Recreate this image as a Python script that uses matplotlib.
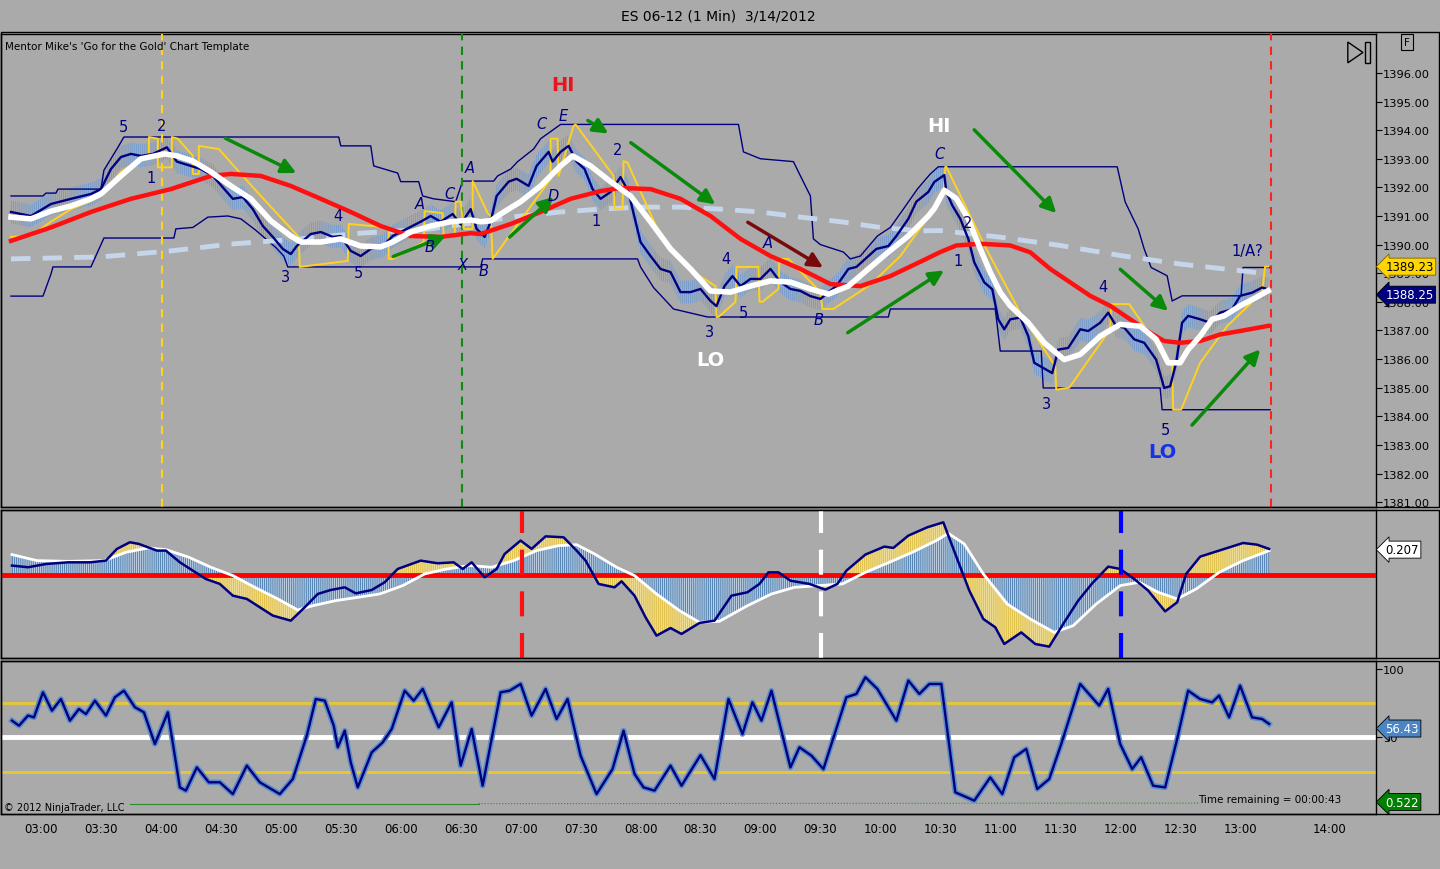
import numpy as np
import matplotlib
matplotlib.use("Agg")
import matplotlib.pyplot as plt
from matplotlib.patches import Rectangle, Polygon
from matplotlib.transforms import blended_transform_factory

# time is minutes after 03:00 (1-min ES bars)
tick_pos = [0, 30, 60, 90, 120, 150, 180, 210, 240, 270, 300, 330, 360, 390,
            420, 450, 480, 510, 540, 570, 600, 645]
tick_labels = ["03:00", "03:30", "04:00", "04:30", "05:00", "05:30", "06:00",
               "06:30", "07:00", "07:30", "08:00", "08:30", "09:00", "09:30",
               "10:00", "10:30", "11:00", "11:30", "12:00", "12:30", "13:00", "14:00"]

# fast price line (dark blue)
fast_t = [-15, -5, 5, 15, 25, 30, 35, 40, 45, 50, 56, 63, 68, 75, 80, 86, 91, 96, 101, 106,
          111, 116, 121, 125, 128, 135, 140, 146, 150, 155, 160, 165, 171, 176, 183, 190, 195,
          200, 206, 210, 215, 218, 222, 225, 228, 234, 238, 244, 248, 254, 256, 260, 264, 268,
          272, 276, 280, 285, 290, 294, 296, 300, 305, 310, 315, 320, 325, 330, 335, 338, 342,
          346, 350, 355, 360, 365, 370, 375, 380, 385, 390, 394, 398, 404, 408, 414, 418, 424,
          428, 434, 438, 444, 447, 452, 453, 456, 460, 464, 467, 472, 476, 479, 482, 485, 490,
          494, 497, 500, 506, 509, 514, 520, 524, 530, 534, 538, 542, 547, 552, 558, 562, 565,
          568, 571, 574, 580, 585, 590, 596, 600, 606, 611, 614]
fast_p = [1391.14, 1391.0, 1391.42, 1391.6, 1391.77, 1391.94, 1392.64, 1393.06, 1393.17, 1393.1,
          1393.17, 1393.4, 1392.9, 1392.75, 1392.64, 1392.4, 1392.0, 1391.6, 1391.66, 1391.24,
          1390.65, 1390.27, 1389.85, 1389.67, 1389.95, 1390.37, 1390.44, 1390.27, 1390.3, 1389.78,
          1389.6, 1389.85, 1389.95, 1390.3, 1390.55, 1390.8, 1391.0, 1390.8, 1391.07, 1390.7,
          1391.24, 1390.55, 1390.27, 1390.8, 1391.7, 1392.2, 1392.3, 1392.05, 1392.75, 1393.24,
          1392.9, 1393.24, 1393.45, 1392.9, 1392.64, 1391.94, 1391.6, 1391.84, 1392.36, 1391.84,
          1391.24, 1390.09, 1389.6, 1389.15, 1389.04, 1388.34, 1388.34, 1388.45, 1388.03, 1387.85,
          1388.55, 1388.9, 1388.55, 1388.8, 1388.8, 1389.15, 1388.69, 1388.45, 1388.38, 1388.2,
          1388.1, 1388.34, 1388.55, 1389.15, 1389.22, 1389.6, 1389.85, 1389.95, 1390.3, 1390.9,
          1391.5, 1391.84, 1392.19, 1392.43, 1391.84, 1391.37, 1390.9, 1390.2, 1389.38, 1388.68,
          1388.44, 1387.39, 1387.04, 1387.39, 1387.45, 1386.8, 1385.87, 1385.75, 1385.51, 1386.33,
          1386.39, 1387.04, 1386.98, 1387.27, 1387.62, 1387.15, 1387.1, 1386.69, 1386.57, 1385.98,
          1384.99, 1385.05, 1385.87, 1387.27, 1387.51, 1387.39, 1387.27, 1387.62, 1387.74, 1388.21,
          1388.32, 1388.5, 1388.44]

# medium average (white)
white_t = [-15, -5, 5, 15, 25, 30, 40, 50, 62, 68, 76, 85, 95, 105, 115, 125, 130, 140, 150, 160,
           170, 176, 185, 195, 205, 215, 220, 225, 230, 240, 250, 260, 266, 275, 285, 295, 305,
           315, 325, 335, 345, 355, 365, 375, 385, 394, 404, 414, 424, 434, 444, 447, 452, 458,
           464, 470, 475, 480, 485, 494, 502, 512, 520, 530, 540, 550, 558, 564, 570, 574, 580,
           586, 592, 600, 608, 614]
white_p = [1390.96, 1390.9, 1391.17, 1391.35, 1391.6, 1391.77, 1392.4, 1393.0, 1393.17, 1393.1,
           1392.92, 1392.54, 1392.05, 1391.6, 1390.83, 1390.3, 1390.09, 1390.09, 1390.2, 1389.95,
           1389.92, 1390.09, 1390.44, 1390.65, 1390.8, 1390.86, 1390.8, 1390.83, 1391.07, 1391.5,
           1392.05, 1392.75, 1393.1, 1392.75, 1392.2, 1391.7, 1390.8, 1389.85, 1389.15, 1388.38,
           1388.34, 1388.55, 1388.73, 1388.69, 1388.45, 1388.27, 1388.55, 1389.15, 1389.74, 1390.3,
           1391.0, 1391.26, 1391.9, 1391.61, 1390.9, 1389.85, 1389.03, 1388.33, 1387.86, 1387.27,
           1386.57, 1385.98, 1386.16, 1386.8, 1387.21, 1387.15, 1386.69, 1385.87, 1385.87, 1386.33,
           1386.8, 1387.39, 1387.51, 1387.86, 1388.15, 1388.39]

# slow average (red)
red_t = [-15, 5, 25, 45, 65, 85, 95, 110, 125, 140, 155, 170, 185, 200, 215, 220, 235, 250, 265,
         280, 290, 305, 320, 335, 350, 365, 380, 395, 410, 425, 440, 450, 458, 470, 485, 495, 505,
         515, 525, 535, 545, 555, 562, 570, 580, 590, 600, 614]
red_p = [1390.13, 1390.6, 1391.14, 1391.6, 1391.94, 1392.4, 1392.47, 1392.4, 1392.05, 1391.6,
         1391.14, 1390.65, 1390.3, 1390.27, 1390.4, 1390.37, 1390.72, 1391.14, 1391.6, 1391.87,
         1391.98, 1391.94, 1391.6, 1391.0, 1390.2, 1389.6, 1389.15, 1388.62, 1388.55, 1388.9,
         1389.4, 1389.74, 1389.97, 1390.03, 1389.97, 1389.73, 1389.15, 1388.68, 1388.21, 1387.86,
         1387.39, 1386.92, 1386.63, 1386.57, 1386.63, 1386.86, 1386.98, 1387.16]

# long average (light blue dashed)
long_t = [-15, 30, 65, 95, 130, 160, 195, 220, 240, 260, 280, 300, 320, 340, 360, 380, 400, 420,
          440, 450, 480, 510, 540, 570, 600, 614]
long_p = [1389.5, 1389.57, 1389.78, 1390.02, 1390.2, 1390.4, 1390.55, 1390.8, 1391.0, 1391.14,
          1391.24, 1391.31, 1391.31, 1391.24, 1391.14, 1390.96, 1390.8, 1390.6, 1390.48, 1390.49,
          1390.26, 1389.97, 1389.62, 1389.32, 1389.09, 1388.97]

# yellow stepping line
yel_t = [-15, -5, 5, 15, 25, 30, 40, 50, 54, 54, 58.5, 58.5, 65.5, 65.5, 68.5, 76, 76, 79, 79, 89,
         96.5, 110, 121.5, 129, 129.5, 153.5, 154, 174, 174, 176, 191.5, 192, 201, 201.5, 207,
         207.5, 210, 211.5, 216, 216, 223.5, 225, 226, 255, 255, 258.5, 259, 266.5, 267.5, 286.5,
         287, 291, 291.5, 293.5, 310, 326.5, 337.5, 338, 339, 347.5, 348, 359, 359.5, 361, 369,
         369.5, 374, 390, 391, 396.5, 415, 430, 447, 451.5, 452.5, 453, 473, 490, 507.5, 508,
         514.5, 535, 535.5, 544.5, 566, 566.5, 570.5, 580, 593.5, 611, 612.5, 614]
yel_p = [1390.27, 1390.3, 1390.8, 1391.24, 1391.52, 1391.7, 1392.54, 1393.0, 1393.1, 1393.76,
         1393.7, 1392.7, 1392.7, 1393.76, 1393.7, 1393.1, 1392.47, 1392.47, 1393.45, 1393.34,
         1392.75, 1391.7, 1390.83, 1390.27, 1389.22, 1389.43, 1390.72, 1390.6, 1389.5, 1389.5,
         1390.09, 1391.17, 1391.1, 1390.3, 1390.3, 1391.5, 1391.5, 1390.55, 1390.55, 1392.22,
         1391.1, 1391.0, 1389.5, 1392.3, 1393.7, 1393.7, 1392.4, 1394.15, 1394.2, 1392.4,
         1391.24, 1391.24, 1392.92, 1392.86, 1390.3, 1389.04, 1388.55, 1387.47, 1387.47, 1388.0,
         1389.22, 1389.22, 1388.0, 1388.0, 1388.45, 1389.5, 1389.5, 1388.34, 1387.75, 1387.75,
         1388.6, 1389.6, 1391.26, 1391.72, 1392.72, 1392.72, 1389.85, 1387.62, 1385.75, 1384.93,
         1385.0, 1387.04, 1387.92, 1387.92, 1385.75, 1384.23, 1384.23, 1385.87, 1387.15, 1388.33,
         1389.23, 1389.23]

# price channel (dark blue thin)
up_t = [-15, 1, 2.5, 7.5, 8.5, 30, 31.5, 35, 38.5, 41.5, 149, 150, 165, 166.5, 178.5, 180, 189,
        191, 196.5, 207.5, 211, 226.5, 228.5, 235, 238.5, 246.5, 250, 260, 349, 351.5, 360, 376.5,
        380, 385, 386.5, 390, 401.5, 405, 410, 418.5, 425, 431.5, 438.5, 445, 449, 538.5, 542.5,
        549, 552, 555.5, 563.5, 566, 571, 600.5, 601.5, 615]
up_p = [1391.7, 1391.7, 1391.8, 1391.8, 1391.94, 1391.94, 1392.6, 1393.0, 1393.4, 1393.76, 1393.76,
        1393.45, 1393.45, 1392.75, 1392.5, 1392.2, 1392.2, 1391.7, 1391.6, 1391.5, 1392.22, 1392.22,
        1392.4, 1392.64, 1392.9, 1393.34, 1393.7, 1394.2, 1394.2, 1393.24, 1393.0, 1392.9, 1392.4,
        1391.7, 1390.2, 1390.0, 1389.74, 1389.5, 1389.6, 1390.3, 1390.6, 1391.24, 1391.94, 1392.47,
        1392.72, 1392.72, 1391.49, 1390.55, 1389.85, 1389.2, 1388.91, 1388.03, 1388.21, 1388.21,
        1389.2, 1389.2]
lo_t = [-15, 1, 5, 6, 25, 31.5, 66.5, 67.5, 76, 83.5, 93.5, 100, 107.5, 112.5, 117.5, 121.5, 123.5,
        220, 221, 298.5, 300, 306.5, 316.5, 333.5, 424, 425, 477.5, 480, 500.5, 501.5, 560, 561, 615]
lo_p = [1388.2, 1388.2, 1388.97, 1389.22, 1389.22, 1390.23, 1390.23, 1390.55, 1390.6, 1390.96,
        1391.0, 1390.9, 1390.5, 1390.2, 1389.9, 1389.6, 1389.22, 1389.22, 1389.5, 1389.5, 1389.22,
        1388.5, 1387.75, 1387.47, 1387.47, 1387.75, 1387.75, 1386.28, 1386.28, 1384.99, 1384.99,
        1384.23, 1384.23]

# oscillator panel
osc_t = [-14.5, -6.5, 2.5, 13.5, 24.5, 32.5, 38, 44.5, 49, 58, 62.5, 69.5, 76, 82.5, 89.5, 96,
         103, 109.5, 116, 125, 132, 138.5, 145, 152, 157.5, 165.5, 172, 178.5, 190, 198.5, 206.5,
         211, 215.5, 222, 228, 232, 240, 245.5, 252.5, 261.5, 268, 272.5, 279, 287, 290.5, 297,
         302.5, 308, 315, 320.5, 329.5, 337, 345.5, 353.5, 359.5, 364, 369, 375, 384.5, 392.5,
         398.5, 403, 412.5, 422, 426.5, 434, 443.5, 451.5, 457.5, 464.5, 471.5, 477.5, 482, 490.5,
         497.5, 504.5, 511.5, 519, 526, 534, 540, 547, 554, 562.5, 568.5, 573, 580, 589.5, 601.5,
         608.5, 614.5]
osc_v = [0.075, 0.061, 0.088, 0.102, 0.102, 0.116, 0.213, 0.268, 0.254, 0.199, 0.199, 0.102,
         0.033, -0.036, -0.077, -0.174, -0.201, -0.27, -0.339, -0.381, -0.27, -0.16, -0.127,
         -0.105, -0.155, -0.127, -0.063, 0.047, 0.116, 0.094, 0.102, 0.047, 0.102, -0.022, 0.047,
         0.171, 0.282, 0.213, 0.317, 0.309, 0.199, 0.116, -0.077, -0.105, -0.055, -0.174, -0.353,
         -0.505, -0.442, -0.491, -0.40, -0.381, -0.174, -0.146, -0.077, 0.019, 0.019, -0.05,
         -0.077, -0.124, -0.077, 0.033, 0.166, 0.232, 0.221, 0.323, 0.392, 0.433, 0.171, -0.132,
         -0.367, -0.436, -0.574, -0.478, -0.574, -0.596, -0.408, -0.215, -0.072, 0.066, 0.047,
         -0.036, -0.132, -0.304, -0.229, 0.006, 0.149, 0.199, 0.262, 0.248, 0.213]
sig_t = [-14.5, -2, 13.5, 31.5, 42.5, 53.5, 62.5, 74, 85, 96, 107, 118.5, 128.5, 136, 147.5,
         158.5, 169.5, 181, 192, 203, 214.5, 225.5, 236.5, 248, 259, 268, 277, 288, 297, 308,
         319.5, 329.5, 339.5, 353.5, 365.5, 377, 389, 401, 412.5, 424.5, 436, 448, 454, 462,
         471.5, 483.5, 495, 507, 516.5, 528, 540, 549.5, 559, 568.5, 578, 589.5, 601.5, 614.5]
sig_v = [0.166, 0.116, 0.11, 0.116, 0.185, 0.221, 0.207, 0.144, 0.061, -0.008, -0.105, -0.201,
         -0.293, -0.257, -0.215, -0.188, -0.16, -0.091, 0.006, 0.047, 0.075, 0.061, 0.116, 0.199,
         0.24, 0.248, 0.171, 0.061, -0.008, -0.16, -0.298, -0.395, -0.386, -0.257, -0.16, -0.105,
         -0.091, -0.077, 0.019, 0.102, 0.185, 0.282, 0.342, 0.254, 0.006, -0.243, -0.367, -0.478,
         -0.422, -0.243, -0.091, -0.063, -0.146, -0.201, -0.119, 0.019, 0.116, 0.199]

# stochastic panel
st_t = [-14.5, -11, -6.5, -3.5, 1, 5.5, 10, 14.5, 19, 22.5, 27, 32.5, 37, 41.5, 47, 51.5, 57,
        63.5, 69.5, 72.5, 78, 84, 89.5, 96, 103, 109.5, 119.5, 126, 133, 137.5, 142, 146.5, 148.5,
        152, 155, 158.5, 165.5, 171, 175.5, 182, 186.5, 191, 199, 205.5, 210, 215.5, 221, 230,
        234.5, 240, 245.5, 252.5, 258, 263.5, 270, 278, 286, 291.5, 297, 301.5, 307, 315, 320.5,
        330, 337, 344, 351, 356, 360.5, 365.5, 375, 379.5, 385.5, 391.5, 403, 408, 412.5, 418.5,
        428, 434, 439.5, 444.5, 450.5, 457.5, 467, 475, 481, 487, 493, 498.5, 504.5, 510.5, 520,
        529.5, 534, 540, 546, 550.5, 556.5, 562.5, 568.5, 574, 580, 586, 589.5, 594.5, 600, 606,
        611, 614.5]
st_v = [62.2, 58.5, 65.9, 64.6, 82.9, 69.5, 78.0, 62.2, 70.7, 67.0, 76.8, 65.9, 79.3, 84.1, 72.0,
        68.3, 45.1, 68.3, 13.4, 11.0, 28.0, 17.1, 17.1, 8.5, 29.3, 17.1, 8.5, 19.5, 51.2, 78.0,
        76.8, 58.5, 42.7, 54.9, 31.7, 13.4, 39.0, 46.3, 56.1, 84.1, 76.8, 85.4, 57.3, 75.6, 29.3,
        56.1, 14.6, 82.9, 84.1, 89.0, 65.9, 85.4, 63.4, 78.0, 36.6, 8.5, 26.8, 54.9, 23.2, 13.4,
        11.0, 29.3, 14.6, 37.0, 19.5, 78.0, 52.4, 75.6, 62.2, 84.1, 28.0, 42.7, 36.6, 26.8, 79.3,
        81.7, 93.9, 85.4, 62.2, 91.5, 81.7, 89.0, 89.0, 9.8, 3.7, 20.7, 8.5, 35.4, 41.5, 12.2,
        19.5, 45.1, 89.0, 73.2, 85.4, 45.1, 26.8, 35.4, 14.6, 13.4, 48.8, 84.1, 78.0, 75.6, 80.5,
        64.6, 87.8, 64.6, 63.4, 59.8]
green_solid_t = [44.5, 219]
green_solid_v = [1.2, 1.2]
green_dot_t = [219, 330, 470, 580]
green_dot_v = [1.5, 1.6, 1.8, 1.9]

# annotations: (text, minute, price)
wave_labels = [("5", 41.5, 1394.11), ("2", 60.5, 1394.15), ("1", 55, 1392.33),
               ("4", 148.5, 1391.03), ("3", 122.5, 1388.87), ("5", 159, 1389.01),
               ("A", 189.5, 1391.45), ("C", 204.5, 1391.77), ("A", 214.5, 1392.68),
               ("B", 194.5, 1389.95), ("X", 211, 1389.32), ("B", 221.5, 1389.11),
               ("C", 250.5, 1394.22), ("E", 261.5, 1394.5), ("D", 256.5, 1391.73),
               ("1", 277.5, 1390.83), ("2", 288.5, 1393.34), ("4", 342.5, 1389.53),
               ("A", 363.5, 1390.06), ("5", 351.5, 1387.64), ("3", 334.5, 1386.98),
               ("B", 389, 1387.4), ("C", 449.5, 1393.17), ("2", 463.5, 1390.76),
               ("1", 459, 1389.43), ("4", 531.5, 1388.55), ("3", 503, 1384.43),
               ("5", 562.5, 1383.55), ("1/A?", 603.5, 1389.78)]
hilo_labels = [("HI", 261, 1395.58, "#e8141e"), ("LO", 335, 1386.0, "white"),
               ("HI", 449.5, 1394.15, "white"), ("LO", 561, 1382.78, "#1432e6")]
# arrows: (start minute, start price, end minute, end price)
green_arrows = [(91, 1393.76, 129, 1392.46), (175, 1389.55, 204, 1390.35),
                (233.5, 1390.2, 257.5, 1391.73), (272.5, 1394.39, 285, 1393.83),
                (294, 1393.62, 338.5, 1391.35), (402.5, 1386.87, 453, 1389.15),
                (466, 1394.08, 509, 1391.03), (539, 1389.2, 565, 1387.62),
                (575, 1383.62, 611, 1386.41)]
red_arrow = (352.5, 1390.83, 392.5, 1389.15)

BG = "#aaaaaa"
NAVY = "#000080"
plt.rcParams["hatch.linewidth"] = 0.6
plt.rcParams["font.family"] = ["DejaVu Sans"]

fig = plt.figure(figsize=(14.4, 8.7), dpi=100, facecolor=BG)
W, H = 1440.0, 870.0


def panel(top, bottom):
    return fig.add_axes([1 / W, 1 - bottom / H, 1375 / W, (bottom - top) / H], facecolor=BG)


ax1 = panel(35, 508)
ax2 = panel(511, 659)
ax3 = panel(662, 815)
xlim = (-20, 668)
for ax in (ax1, ax2, ax3):
    ax.set_xlim(*xlim)
    ax.set_xticks(tick_pos)
    ax.tick_params(axis="x", labelbottom=False, length=0)
    ax.yaxis.tick_right()
    ax.tick_params(axis="y", direction="out", length=4, labelsize=8.2, pad=1, colors="black")
    for s in ax.spines.values():
        s.set_linewidth(1)
# outer frames reaching the right edge
for top, bottom in ((33, 508), (511, 659), (662, 815)):
    fig.add_artist(Rectangle((1 / W, 1 - bottom / H), 1438 / W, (bottom - top) / H,
                             transform=fig.transFigure, fill=False, ec="black", lw=1))

fig.text(718 / W, 1 - 16 / H, "ES 06-12 (1 Min)  3/14/2012", ha="center", va="center", fontsize=10)

# ---------------- price panel ----------------
ax1.set_ylim(1380.83, 1397.36)
ax1.set_yticks(range(1381, 1397))
ax1.set_yticklabels([f"{v:.2f}" for v in range(1381, 1397)])

fp = np.array(fast_p)
ax1.fill_between(fast_t, fp - 0.4, fp + 0.4, facecolor="none", edgecolor="#6f9bd3",
                 hatch="|" * 8, linewidth=0, zorder=1)
ax1.plot(up_t, up_p, color=NAVY, lw=1, zorder=2)
ax1.plot(lo_t, lo_p, color=NAVY, lw=1, zorder=2)
ax1.plot(long_t, long_p, color="#c6d6ea", lw=3.5, dashes=(4, 2.5), zorder=3)
ax1.plot(yel_t, yel_p, color="#ffd21e", lw=1.4, zorder=4)
ax1.plot(fast_t, fast_p, color=NAVY, lw=1.7, zorder=5)
ax1.plot(red_t, red_p, color="#ff1010", lw=3.2, zorder=6)
ax1.plot(white_t, white_p, color="white", lw=4, zorder=7)

ax1.axvline(60.5, color="#ffd21e", lw=1.5, ls=(0, (4, 3)), zorder=3)
ax1.axvline(210.5, color="#118a11", lw=1.5, ls=(0, (4, 3)), zorder=3)
ax1.axvline(615.5, color="#ff2020", lw=1.5, ls=(0, (4, 3)), zorder=3)

for txt, t, p in wave_labels:
    ax1.text(t, p, txt, color=NAVY, fontsize=10.5, ha="center", va="center",
             style="italic" if txt.isalpha() else "normal", zorder=9)
for txt, t, p, c in hilo_labels:
    ax1.text(t, p, txt, color=c, fontsize=14, fontweight="bold", ha="center", va="center", zorder=9)
for t0, p0, t1, p1 in green_arrows:
    ax1.annotate("", xy=(t1, p1), xytext=(t0, p0), zorder=8,
                 arrowprops=dict(arrowstyle="-|>", color="#0a8a0a", lw=2.5, mutation_scale=22))
t0, p0, t1, p1 = red_arrow
ax1.annotate("", xy=(t1, p1), xytext=(t0, p0), zorder=8,
             arrowprops=dict(arrowstyle="-|>", color="#7a0a0a", lw=2.5, mutation_scale=22))

ax1.text(0.003, 0.975, "Mentor Mike's 'Go for the Gold' Chart Template", transform=ax1.transAxes,
         fontsize=7.5, ha="left", va="center")

# play-to-end icon and F box
ax1.add_patch(Polygon([[0.9795, 0.983], [0.9795, 0.939], [0.9905, 0.961]], closed=True, fill=False,
                      ec="black", lw=1, transform=ax1.transAxes, clip_on=False))
ax1.add_patch(Rectangle((0.992, 0.939), 0.0035, 0.044, fill=False, ec="black", lw=1,
                        transform=ax1.transAxes, clip_on=False))
fig.text(1407 / W, 1 - 43 / H, "F", fontsize=7.5, ha="center", va="center",
         bbox=dict(boxstyle="square,pad=0.25", fc=BG, ec="black", lw=0.8))

lbl = dict(fontsize=8.5, ha="left", va="center", clip_on=False, zorder=10)
tr1 = blended_transform_factory(ax1.transAxes, ax1.transData)
ax1.text(1.0068, 1389.23, "1389.23", transform=tr1, color="black",
         bbox=dict(boxstyle="larrow,pad=0.17", fc="#ffd700", ec="#806000", lw=0.6), **lbl)
ax1.text(1.0068, 1388.25, "1388.25", transform=tr1, color="white",
         bbox=dict(boxstyle="larrow,pad=0.17", fc=NAVY, ec="black", lw=0.6), **lbl)

# ---------------- oscillator panel ----------------
ax2.set_ylim(-0.690, 0.535)
ax2.set_yticks([])
ax2.fill(np.concatenate([osc_t, sig_t[::-1]]), np.concatenate([osc_v, sig_v[::-1]]),
         facecolor="#e0c24e", edgecolor="#f2e4a8", hatch="|" * 8, lw=0, zorder=1)
ax2.fill_between(sig_t, 0, sig_v, facecolor="#5a88b6", edgecolor="#cfdbe8",
                 hatch="|" * 8, linewidth=0, zorder=2)
ax2.axhline(0, color="#ff0000", lw=3.5, zorder=3)
ax2.plot(sig_t, sig_v, color="white", lw=2, zorder=4)
ax2.plot(osc_t, osc_v, color=NAVY, lw=1.8, zorder=5)
ax2.axvline(240.5, color="#ff1010", lw=3, dashes=(6, 4), zorder=6)
ax2.axvline(390.5, color="white", lw=3, dashes=(6, 4), zorder=6)
ax2.axvline(540.5, color="#0000ff", lw=3, dashes=(6, 4), zorder=6)
tr2 = blended_transform_factory(ax2.transAxes, ax2.transData)
ax2.text(1.0068, 0.207, "0.207", transform=tr2, color="black",
         bbox=dict(boxstyle="larrow,pad=0.17", fc="white", ec="black", lw=0.6), **lbl)

# ---------------- stochastic panel ----------------
ax3.set_ylim(-6.07, 105.8)
ax3.set_yticks([50, 100])
ax3.set_yticklabels(["50", "100"])
ax3.axhline(75, color="#e8c832", lw=2, zorder=1)
ax3.axhline(25, color="#e8c832", lw=2, zorder=1)
ax3.axhline(50, color="white", lw=3.5, zorder=1)
ax3.plot(green_solid_t, green_solid_v, color="#2e8b2e", lw=0.8, zorder=2)
ax3.plot(green_dot_t, green_dot_v, color="#2e8b2e", lw=0.8, ls=":", zorder=2)
ax3.plot(st_t, st_v, color="#5a8cc8", lw=4, zorder=3, solid_joinstyle="round")
ax3.plot(st_t, st_v, color=NAVY, lw=1.7, zorder=4)
ax3.tick_params(axis="x", labelbottom=True, labelsize=8.5, pad=6)
ax3.set_xticklabels(tick_labels)
ax3.text(0.002, 0.045, "\u00a9 2012 NinjaTrader, LLC", transform=ax3.transAxes, fontsize=7,
         ha="left", va="center")
ax3.text(0.975, 0.095, "Time remaining = 00:00:43", transform=ax3.transAxes, fontsize=7.5,
         ha="right", va="center")
tr3 = blended_transform_factory(ax3.transAxes, ax3.transData)
ax3.text(1.0068, 56.43, "56.43", transform=tr3, color="white",
         bbox=dict(boxstyle="larrow,pad=0.17", fc="#4a86c6", ec="black", lw=0.6), **lbl)
ax3.text(1.0068, 2.7, "0.522", transform=tr3, color="white",
         bbox=dict(boxstyle="larrow,pad=0.17", fc="#008000", ec="black", lw=0.6), **lbl)

fig.savefig("out.png", dpi=100, facecolor=BG)
